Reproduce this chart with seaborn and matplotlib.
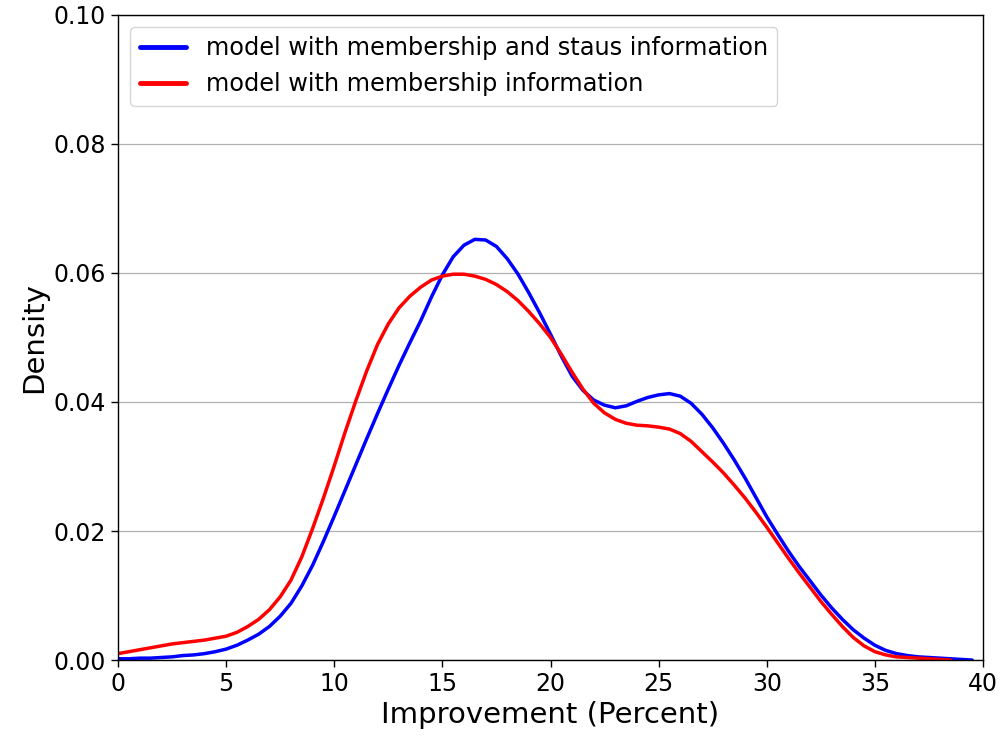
import matplotlib
matplotlib.use("Agg")
import matplotlib.pyplot as plt
import seaborn as sns
import pandas as pd

# Estimated density curves of the improvement (percent) for the two models,
# sampled every half percent
status_x = [0, 0.5, 1, 1.5, 2, 2.5, 3, 3.5, 4, 4.5, 5, 5.5, 6, 6.5, 7, 7.5, 8,
            8.5, 9, 9.5, 10, 10.5, 11, 11.5, 12, 12.5, 13, 13.5, 14, 14.5, 15,
            15.5, 16, 16.5, 17, 17.5, 18, 18.5, 19, 19.5, 20, 20.5, 21, 21.5,
            22, 22.5, 23, 23.5, 24, 24.5, 25, 25.5, 26, 26.5, 27, 27.5, 28,
            28.5, 29, 29.5, 30, 30.5, 31, 31.5, 32, 32.5, 33, 33.5, 34, 34.5,
            35, 35.5, 36, 36.5, 37, 37.5, 38, 38.5, 39, 39.5]
status_density = [0.0002, 0.0002, 0.0003, 0.0003, 0.0004, 0.0005, 0.0007, 0.0008,
                  0.0010, 0.0013, 0.0017, 0.0023, 0.0031, 0.0040, 0.0052, 0.0068,
                  0.0088, 0.0115, 0.0147, 0.0184, 0.0223, 0.0263, 0.0303, 0.0343,
                  0.0382, 0.0420, 0.0457, 0.0492, 0.0526, 0.0563, 0.0597, 0.0625,
                  0.0643, 0.0652, 0.0651, 0.0641, 0.0622, 0.0598, 0.0569, 0.0538,
                  0.0505, 0.0471, 0.0440, 0.0418, 0.0403, 0.0395, 0.0391, 0.0394,
                  0.0401, 0.0407, 0.0411, 0.0413, 0.0409, 0.0398, 0.0381, 0.0360,
                  0.0336, 0.0310, 0.0282, 0.0252, 0.0222, 0.0195, 0.0169, 0.0145,
                  0.0123, 0.0101, 0.0081, 0.0063, 0.0047, 0.0034, 0.0023, 0.0015,
                  0.0010, 0.0007, 0.0005, 0.0004, 0.0003, 0.0002, 0.0001, 0.0000]

member_x = [0, 0.5, 1, 1.5, 2, 2.5, 3, 3.5, 4, 4.5, 5, 5.5, 6, 6.5, 7, 7.5, 8,
            8.5, 9, 9.5, 10, 10.5, 11, 11.5, 12, 12.5, 13, 13.5, 14, 14.5, 15,
            15.5, 16, 16.5, 17, 17.5, 18, 18.5, 19, 19.5, 20, 20.5, 21, 21.5,
            22, 22.5, 23, 23.5, 24, 24.5, 25, 25.5, 26, 26.5, 27, 27.5, 28,
            28.5, 29, 29.5, 30, 30.5, 31, 31.5, 32, 32.5, 33, 33.5, 34, 34.5,
            35, 35.5, 36, 36.5, 37, 37.5, 38, 38.5]
member_density = [0.0010, 0.0013, 0.0016, 0.0019, 0.0022, 0.0025, 0.0027, 0.0029,
                  0.0031, 0.0034, 0.0037, 0.0043, 0.0052, 0.0063, 0.0078, 0.0098,
                  0.0124, 0.0160, 0.0204, 0.0251, 0.0301, 0.0353, 0.0402, 0.0448,
                  0.0489, 0.0521, 0.0546, 0.0564, 0.0578, 0.0589, 0.0595, 0.0598,
                  0.0598, 0.0595, 0.0590, 0.0582, 0.0571, 0.0557, 0.0540, 0.0521,
                  0.0500, 0.0474, 0.0446, 0.0420, 0.0398, 0.0383, 0.0373, 0.0367,
                  0.0364, 0.0363, 0.0361, 0.0358, 0.0351, 0.0339, 0.0323, 0.0307,
                  0.0290, 0.0271, 0.0251, 0.0229, 0.0206, 0.0182, 0.0158, 0.0135,
                  0.0113, 0.0091, 0.0071, 0.0052, 0.0035, 0.0022, 0.0013, 0.0008,
                  0.0005, 0.0004, 0.0003, 0.0002, 0.0001, 0.0000]

labels = ["model with membership and staus information",
          "model with membership information"]
colors = ["blue", "red"]

x_ticks = [0, 5, 10, 15, 20, 25, 30, 35, 40]
y_ticks = [0.00, 0.02, 0.04, 0.06, 0.08, 0.10]

sns.set_style("ticks")
plt.rcParams["font.family"] = ["DejaVu Sans"]
plt.rcParams["text.color"] = "black"
plt.rcParams["axes.labelcolor"] = "black"

fig = plt.figure(figsize=(10, 7.4), dpi=100)
ax = fig.add_axes([0.118, 0.108, 0.865, 0.872])

df_status = pd.DataFrame({"x": status_x, "density": status_density})
df_member = pd.DataFrame({"x": member_x, "density": member_density})

sns.lineplot(data=df_status, x="x", y="density", color=colors[0], linewidth=2.5,
             label=labels[0], ax=ax)
sns.lineplot(data=df_member, x="x", y="density", color=colors[1], linewidth=2.5,
             label=labels[1], ax=ax)

ax.set_xlim(0, 40)
ax.set_ylim(0, 0.10)
ax.set_xticks(x_ticks)
ax.set_yticks(y_ticks)
ax.set_xticklabels([str(t) for t in x_ticks])
ax.set_yticklabels([f"{t:.2f}" for t in y_ticks])
ax.tick_params(axis="both", labelsize=17, direction="out", length=5, width=1,
               color="black", labelcolor="black")

ax.yaxis.grid(True, color="#b0b0b0", linewidth=0.9)
ax.xaxis.grid(False)
ax.set_axisbelow(True)

for side in ["top", "right", "bottom", "left"]:
    ax.spines[side].set_visible(True)
    ax.spines[side].set_color("black")
    ax.spines[side].set_linewidth(1.0)

ax.set_xlabel("Improvement (Percent)", fontsize=21, color="black")
ax.set_ylabel("Density", fontsize=21, color="black")

leg = ax.legend(loc="upper left", fontsize=17.3, frameon=True, handlelength=1.95,
                borderaxespad=0.5, framealpha=0.8, edgecolor="#cccccc",
                fancybox=True, labelcolor="black")
for line in leg.get_lines():
    line.set_linewidth(3.5)

fig.savefig("out.png", dpi=100, facecolor="white")
